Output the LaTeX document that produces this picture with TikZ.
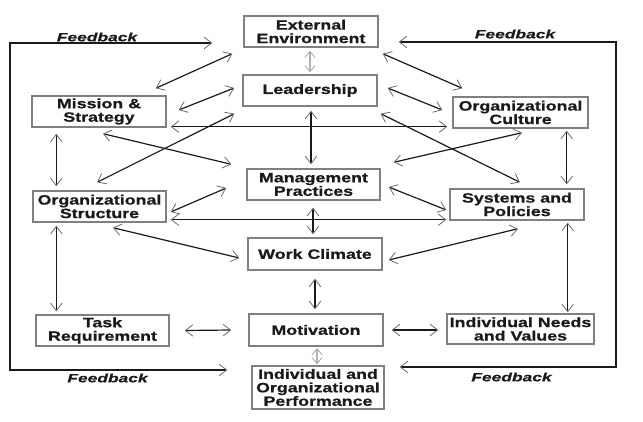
\documentclass[tikz,border=0pt]{standalone}
\usepackage{fontspec}
\newfontfamily\bxf[FakeStretch=1.32,FakeBold=0.7]{Liberation Sans}
\newfontfamily\fbf[FakeStretch=1.45,FakeBold=0.5]{Liberation Sans}
\usetikzlibrary{arrows.meta,calc}
\definecolor{ink}{HTML}{1A1A1A}
\definecolor{boxline}{HTML}{808080}
\definecolor{tipgray}{HTML}{6A6A6A}
\tikzset{
  >={Straight Barb[length=7.5pt,width=11.5pt,line width=0.8pt,color=tipgray]},
  smalltip/.tip={Straight Barb[length=6pt,width=10pt,line width=0.8pt,color=gray!70]},
  blk/.style={draw=boxline, line width=1.4pt, fill=white, inner sep=0pt, align=center,
    font=\bxf\bfseries\fontsize{13.5}{13.5}\selectfont, text=ink},
  fbk/.style={inner sep=0pt, font=\fbf\bfseries\itshape\fontsize{12}{12}\selectfont, text=ink},
  lnk/.style={draw=ink, line width=1.2pt, <->},
  lnkg/.style={draw=gray!60, line width=1.1pt, {smalltip}-{smalltip}},
  fbline/.style={draw=ink, line width=1.5pt, <->},
}
\begin{document}
\begin{tikzpicture}[x=1pt,y=-1pt]
\useasboundingbox (0,0) rectangle (643,422);
% boxes
\node[blk, minimum width=134pt, minimum height=31pt] (ext) at (311,31.5) {External\\Environment};
\node[blk, minimum width=134pt, minimum height=31pt] (lead) at (310,90.5) {Leadership};
\node[blk, minimum width=134pt, minimum height=31pt] (mis) at (99,111.5) {Mission \&\\Strategy};
\node[blk, minimum width=135pt, minimum height=31pt] (cul) at (520.5,112.5) {Organizational\\Culture};
\node[blk, minimum width=133pt, minimum height=31pt] (man) at (313.5,184.5) {Management\\Practices};
\node[blk, minimum width=133pt, minimum height=31pt] (str) at (99.5,206.5) {Organizational\\Structure};
\node[blk, minimum width=134pt, minimum height=31pt] (sys) at (517,204.5) {Systems and\\Policies};
\node[blk, minimum width=134pt, minimum height=32pt] (wc) at (315,254) {Work Climate};
\node[blk, minimum width=133pt, minimum height=31pt] (task) at (102.5,330.5) {Task\\Requirement};
\node[blk, minimum width=134pt, minimum height=32pt] (mot) at (316,330) {Motivation};
\node[blk, minimum width=147pt, minimum height=30pt] (ind) at (520.5,329) {Individual Needs\\and Values};
\node[blk, minimum width=132pt, minimum height=43pt] (perf) at (318,387.5) {Individual and\\Organizational\\Performance};
% feedback labels
\node[fbk] (fb1) at (97,37) {Feedback};
\node[fbk] (fb2) at (515,34) {Feedback};
\node[fbk] (fb3) at (107.5,378) {Feedback};
\node[fbk] (fb4) at (511.5,377) {Feedback};
% feedback loops
\coordinate (fl1) at (10,43);
\coordinate (fl2) at (10,370);
\coordinate (fr1) at (616,42);
\coordinate (fr2) at (616,367);
\draw[fbline] ($(ext.west)+(-31,11.5)$) -- (fl1) -- (fl2) -- ($(perf.west)+(-24,-17.5)$);
\draw[fbline] ($(ext.east)+(20,10.5)$) -- (fr1) -- (fr2) -- ($(perf.east)+(15,-20.5)$);
% connectors
\draw[lnkg] ($(ext.south)+(-1,3)$) -- ($(lead.north)+(0,-2)$);
\draw[lnk] ($(mis.north east)+(-11,-7)$) -- ($(ext.south west)+(-11,6)$);
\draw[lnk] ($(ext.south east)+(4,6)$) -- ($(cul.north west)+(10,-8)$);
\draw[lnk] ($(mis.east)+(12,-1.5)$) -- ($(lead.west)+(-8,-2.5)$);
\draw[lnk] ($(lead.east)+(10,-2.5)$) -- ($(cul.west)+(-10,-2.5)$);
\draw[lnk] ($(mis.south east)+(4,-1)$) -- ($(cul.south west)+(-5,-2)$);
\draw[lnk] ($(lead.south west)+(-8,7)$) -- ($(str.north)+(-2.5,-8)$);
\draw[lnk] ($(mis.south)+(4,6)$) -- ($(man.north west)+(-15,-4)$);
\draw[lnk] ($(lead.south east)+(3,7)$) -- ($(sys.north)+(3,-6)$);
\draw[lnk] ($(cul.south)+(1.5,4)$) -- ($(man.north east)+(13,-6)$);
\draw[lnk] ($(lead.south)+(1,4)$) -- ($(man.north)+(-2.5,-4)$);
\draw[lnk] ($(mis.south west)+(25,6)$) -- ($(str.north west)+(24,-4)$);
\draw[lnk] ($(cul.south east)+(-22,2)$) -- ($(sys.north east)+(-18,-4)$);
\draw[lnk] ($(man.west)+(-20,3.5)$) -- ($(str.east)+(4,5.5)$);
\draw[lnk] ($(man.east)+(8,2.5)$) -- ($(sys.west)+(-3,5.5)$);
\draw[lnk] ($(str.south east)+(4,-3)$) -- ($(sys.south west)+(-3,-1)$);
\draw[lnk] ($(man.south)+(-0.5,7)$) -- ($(wc.north)+(-2,-3)$);
\draw[lnk] ($(str.south)+(13.5,5)$) -- ($(wc.west)+(-8,4)$);
\draw[lnk] ($(sys.south)+(1,8)$) -- ($(wc.east)+(6,6)$);
\draw[lnk] ($(wc.south)+(0,8)$) -- ($(mot.north)+(-1,-4)$);
\draw[lnk] ($(str.south west)+(24,3)$) -- ($(task.north west)+(21,-3)$);
\draw[lnk] ($(sys.south east)+(-17,2)$) -- ($(ind.north east)+(-27,-1)$);
\draw[lnk] ($(task.east)+(15,0)$) -- ($(mot.west)+(-17,0)$);
\draw[lnk] ($(mot.east)+(8,0)$) -- ($(ind.west)+(-8,1)$);
\draw[lnkg] ($(mot.south)+(1,1.5)$) -- ($(perf.north)+(-1,-1)$);
\end{tikzpicture}
\end{document}
